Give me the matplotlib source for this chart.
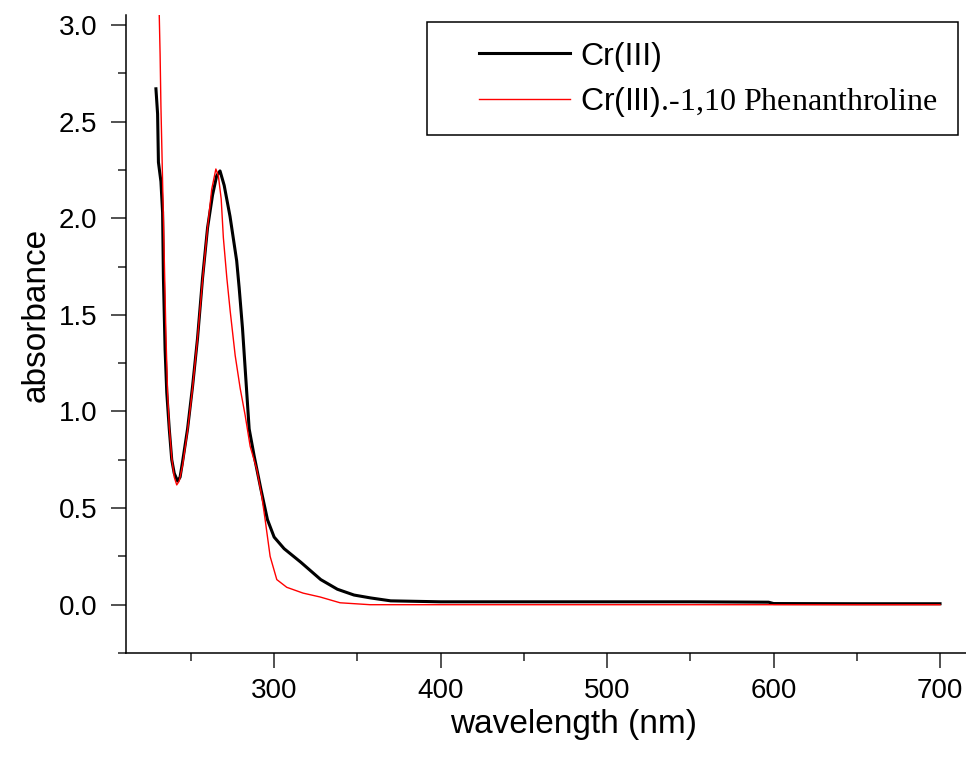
import matplotlib
matplotlib.use('Agg')
import matplotlib.pyplot as plt
from matplotlib.patches import Rectangle
from matplotlib.ticker import MultipleLocator

plt.rcParams['font.family'] = ['Liberation Sans', 'DejaVu Sans']
plt.rcParams['mathtext.fontset'] = 'custom'
plt.rcParams['mathtext.rm'] = 'Liberation Serif'

# Cr(III) spectrum (black)
wl_cr = [229, 230, 230.5, 232, 233, 233.5, 234.5, 235.5, 237, 238.5, 240, 242,
         243.5, 245, 248, 251, 254, 257, 260, 263, 265.5, 267.5, 270, 273.5,
         277.5, 279, 281, 283, 285, 288, 292, 296, 300, 306, 316, 328, 338,
         348, 358, 370, 400, 450, 500, 550, 597, 600, 650, 700]
abs_cr = [2.67, 2.54, 2.29, 2.19, 2.03, 1.69, 1.32, 1.10, 0.91, 0.75, 0.68, 0.64,
          0.66, 0.74, 0.91, 1.13, 1.38, 1.69, 1.95, 2.12, 2.22, 2.245, 2.17, 2.01,
          1.78, 1.64, 1.43, 1.17, 0.91, 0.77, 0.60, 0.44, 0.35, 0.29, 0.22, 0.13, 0.08,
          0.05, 0.035, 0.02, 0.015, 0.015, 0.015, 0.015, 0.013, 0.006, 0.005, 0.005]

# Cr(III)-1,10 phenanthroline spectrum (red)
wl_phen = [230, 231, 231.5, 232, 233, 234, 235, 236, 237, 238.5, 240, 241.5, 243,
           245, 248, 251, 254, 257, 260, 262.5, 265, 266.5, 268.2, 269.5, 271.6,
           273.6, 276.6, 279.6, 282.6, 285.6, 289.6, 292.6, 294.6, 297.6, 301.6,
           307.6, 317.4, 327.6, 339.6, 357.7, 400, 500, 600, 700]
abs_phen = [3.3, 3.05, 2.85, 2.58, 2.19, 1.8, 1.4, 1.1, 0.92, 0.76, 0.66, 0.62, 0.64,
            0.72, 0.90, 1.12, 1.38, 1.68, 1.95, 2.15, 2.255, 2.22, 2.10, 1.9, 1.69,
            1.52, 1.29, 1.12, 0.98, 0.82, 0.70, 0.56, 0.44, 0.25, 0.13,
            0.09, 0.06, 0.04, 0.01, 0.0, 0.0, 0.0, 0.0, 0.0]

labels = ['Cr(III)', r'Cr(III)$\text{.-1,10 Phenanthroline}$']

fig = plt.figure(figsize=(9.66, 7.61), dpi=100)
ax = fig.add_axes([0.1304, 0.1419, 0.8696, 0.8384])

ax.plot(wl_cr, abs_cr, color='black', lw=2.2, label=labels[0])
ax.plot(wl_phen, abs_phen, color='red', lw=1.0, label=labels[1])

ax.set_xlim(211, 715.6)
ax.set_ylim(-0.25, 3.052)
ax.xaxis.set_major_locator(MultipleLocator(100))
ax.xaxis.set_minor_locator(MultipleLocator(50))
ax.yaxis.set_major_locator(MultipleLocator(0.5))
ax.yaxis.set_minor_locator(MultipleLocator(0.25))
ax.yaxis.set_major_formatter(matplotlib.ticker.FormatStrFormatter('%.1f'))

for s in ['top', 'right']:
    ax.spines[s].set_visible(False)
for s in ['left', 'bottom']:
    ax.spines[s].set_linewidth(1.1)

ax.tick_params(which='major', direction='out', length=10.8, width=1.1, labelsize=20, color='#222222')
ax.tick_params(axis='y', which='major', pad=10)
ax.tick_params(axis='x', which='major', pad=7)
ax.tick_params(which='minor', direction='out', length=5.5, width=1.1, color='#222222')

ax.set_xlabel('wavelength (nm)', fontsize=24)
ax.set_ylabel('absorbance', fontsize=24)
ax.xaxis.set_label_coords(0.533, -0.087)
ax.yaxis.set_label_coords(-0.088, 0.53)

leg = fig.legend(loc='upper left', bbox_to_anchor=(0.4959, 0.9454),
                 bbox_transform=fig.transFigure, frameon=False, fontsize=23,
                 borderpad=0, borderaxespad=0, handlelength=2.85,
                 handletextpad=0.31, labelspacing=0.42)
fig.add_artist(Rectangle((427 / 966, 1 - 135 / 761), (958 - 427) / 966, (135 - 22) / 761,
                         transform=fig.transFigure, fill=False, lw=1.1, ec='black'))

fig.savefig('out.png', dpi=100)
